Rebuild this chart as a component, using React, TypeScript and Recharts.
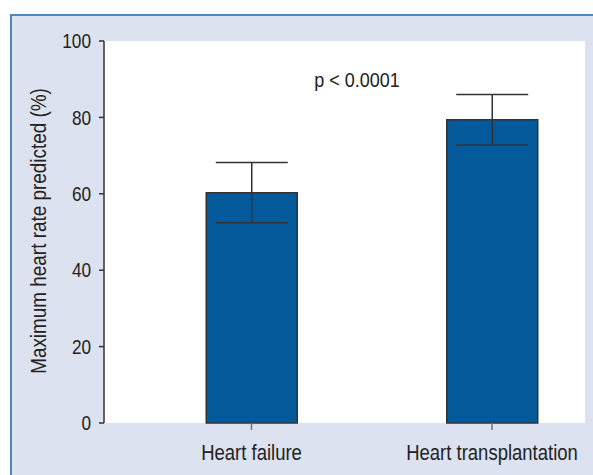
import React from "react";
import { BarChart, Bar, XAxis, YAxis, CartesianGrid, ErrorBar } from "recharts";

const categories = ["Heart failure", "Heart transplantation"];
const meanValues = [60.3, 79.4];
const sdValues = [7.9, 6.6];
const yTicks = [0, 20, 40, 60, 80, 100];

const data = categories.map((name, i) => ({
  pos: i + 1,
  name,
  value: meanValues[i],
  sd: sdValues[i],
}));

// no condensed font installed, so squeeze Liberation Sans horizontally
const FONT = "'Liberation Sans', Arial, sans-serif";
const SQUEEZE = 0.86;
const INK = "#222";

const XTick = (props: any) => {
  const { x, y, payload } = props;
  return (
    <g transform={`translate(${x},${y}) scale(${SQUEEZE},1)`}>
      <text x={0} y={0} dy="0.71em" textAnchor="middle" fill={INK} fontSize={21.5} fontFamily={FONT}>
        {categories[payload.value - 1]}
      </text>
    </g>
  );
};

const YTick = (props: any) => {
  const { x, y, payload } = props;
  return (
    <g transform={`translate(${x},${y}) scale(${SQUEEZE},1)`}>
      <text x={0} y={0} dy="0.355em" textAnchor="end" fill={INK} fontSize={20} fontFamily={FONT}>
        {payload.value}
      </text>
    </g>
  );
};

export default function App() {
  return (
    <div
      style={{
        position: "absolute",
        left: 0,
        top: 0,
        width: 593,
        height: 475,
        background: "#fff",
        overflow: "hidden",
      }}
    >
      <div
        style={{
          position: "absolute",
          left: 10,
          top: 14,
          width: 583,
          height: 461,
          boxSizing: "border-box",
          background: "#dce2ef",
          borderTop: "2px solid #4f86bf",
          borderLeft: "2px solid #4f86bf",
        }}
      />
      <div style={{ position: "absolute", left: 0, top: 0 }}>
        <BarChart
          width={593}
          height={475}
          data={data}
          margin={{ top: 41, right: 8, left: 44, bottom: 12 }}
        >
          <CartesianGrid fill="#ffffff" fillOpacity={1} horizontal={false} vertical={false} stroke="none" />
          <XAxis
            dataKey="pos"
            type="number"
            domain={[0.3867, 2.3867]}
            ticks={[1, 2]}
            axisLine={false}
            tickLine={{ stroke: "#777", strokeWidth: 1.5 }}
            tickSize={7}
            tickMargin={15}
            height={40}
            tick={<XTick />}
          />
          <YAxis
            domain={[0, 100]}
            ticks={yTicks}
            width={60}
            axisLine={{ stroke: "#333", strokeWidth: 1.5 }}
            tickLine={{ stroke: "#333", strokeWidth: 1.5 }}
            tickSize={5}
            tickMargin={8}
            tick={<YTick />}
            label={{
              content: () => (
                <g transform={`translate(46,231) rotate(-90) scale(${SQUEEZE},1)`}>
                  <text x={0} y={0} textAnchor="middle" fill={INK} fontSize={22} fontFamily={FONT}>
                    Maximum heart rate predicted (%)
                  </text>
                </g>
              ),
            }}
          />
          <Bar dataKey="value" fill="#04599b" stroke="#333" strokeWidth={1.5} barSize={91} isAnimationActive={false}>
            <ErrorBar dataKey="sd" width={36} stroke="#333" strokeWidth={1.5} />
          </Bar>
          <g transform={`translate(357,87) scale(0.9,1)`}>
            <text x={0} y={0} textAnchor="middle" fill={INK} fontSize={20} fontFamily={FONT}>
              p &lt; 0.0001
            </text>
          </g>
        </BarChart>
      </div>
    </div>
  );
}
